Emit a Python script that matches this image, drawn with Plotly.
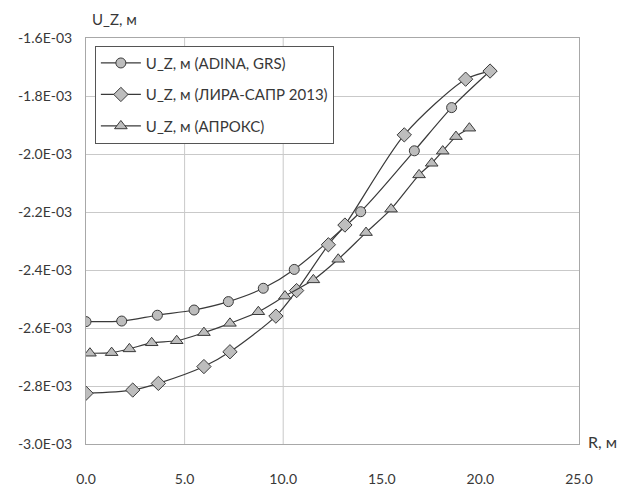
import plotly.graph_objects as go

# Vertical displacement U_Z versus radius R for three solvers
r_adina = [0.0, 1.81, 3.62, 5.48, 7.22, 8.99, 10.56, 13.93, 16.65, 18.54, 20.49]
uz_adina = [-2.578e-3, -2.576e-3, -2.556e-3, -2.538e-3, -2.509e-3, -2.463e-3,
            -2.398e-3, -2.199e-3, -1.989e-3, -1.840e-3, -1.714e-3]

r_lira = [0.0, 2.37, 3.67, 5.98, 7.30, 9.63, 10.68, 12.29, 13.13, 16.14, 19.25, 20.49]
uz_lira = [-2.825e-3, -2.814e-3, -2.791e-3, -2.733e-3, -2.682e-3, -2.559e-3,
           -2.471e-3, -2.313e-3, -2.245e-3, -1.934e-3, -1.742e-3, -1.714e-3]

r_aproks = [0.2, 1.30, 2.20, 3.33, 4.60, 5.98, 7.30, 8.74, 10.09, 11.53, 12.79,
            14.20, 15.47, 16.89, 17.53, 18.09, 18.76, 19.44]
uz_aproks = [-2.687e-3, -2.685e-3, -2.672e-3, -2.651e-3, -2.644e-3, -2.616e-3,
             -2.584e-3, -2.544e-3, -2.490e-3, -2.434e-3, -2.363e-3, -2.271e-3,
             -2.190e-3, -2.072e-3, -2.032e-3, -1.990e-3, -1.940e-3, -1.911e-3]

series_names = ["U_Z, м (ADINA, GRS)", "U_Z, м (ЛИРА-САПР 2013)", "U_Z, м (АПРОКС)"]

y_tick_vals = [-3.0e-3, -2.8e-3, -2.6e-3, -2.4e-3, -2.2e-3, -2.0e-3, -1.8e-3, -1.6e-3]
y_tick_text = ["-3.0E-03", "-2.8E-03", "-2.6E-03", "-2.4E-03", "-2.2E-03",
               "-2.0E-03", "-1.8E-03", "-1.6E-03"]
x_tick_vals = [0, 5, 10, 15, 20, 25]
x_tick_text = ["0.0", "5.0", "10.0", "15.0", "20.0", "25.0"]

LINE = "#3a3a3a"
FILL = "#bdbdbd"
GRID = "#c9c9c9"
TEXT = "#383838"
FONT = "Lato"

fig = go.Figure()

styles = [("circle", 10), ("diamond", 11), ("triangle-up", 11)]
data = [(r_adina, uz_adina), (r_lira, uz_lira), (r_aproks, uz_aproks)]

for i, ((xs, ys), (sym, size), name) in enumerate(zip(data, styles, series_names)):
    fig.add_trace(go.Scatter(
        x=xs, y=ys, name=name, mode="lines+markers",
        legendgroup=f"g{i}",
        line=dict(color=LINE, width=1.2, shape="spline", smoothing=0.8),
        marker=dict(symbol=sym, size=size, color=FILL,
                    line=dict(color=LINE, width=1)),
    ))

# Vertical reference lines at R = 5 and 10
for xv in [5, 10]:
    fig.add_shape(type="line", xref="x", yref="paper", x0=xv, x1=xv, y0=0, y1=1,
                  line=dict(color=GRID, width=1), layer="below")

fig.update_layout(
    width=632, height=488,
    margin=dict(l=86, r=53, t=38, b=44, autoexpand=False),
    paper_bgcolor="white", plot_bgcolor="white",
    font=dict(family=FONT, size=14, color=TEXT),
    showlegend=True,
    legend=dict(
        x=0.018, y=0.981, xanchor="left", yanchor="top",
        bgcolor="white", bordercolor="#555555", borderwidth=1,
        font=dict(family=FONT, size=15, color=TEXT),
        tracegroupgap=9, itemwidth=40,
    ),
    xaxis=dict(
        range=[0, 25], tickvals=x_tick_vals, ticktext=x_tick_text,
        showgrid=False, zeroline=False, automargin=False,
        showline=True, linecolor="#a8a8a8", linewidth=1, mirror=True,
        ticks="", ticklabelstandoff=22,
        tickfont=dict(family=FONT, size=14, color=TEXT),
    ),
    yaxis=dict(
        range=[-3.0e-3, -1.6e-3], tickvals=y_tick_vals, ticktext=y_tick_text,
        showgrid=True, gridcolor=GRID, gridwidth=1, zeroline=False, automargin=False,
        showline=True, linecolor="#a8a8a8", linewidth=1, mirror=True,
        ticks="", ticklabelstandoff=10,
        tickfont=dict(family=FONT, size=14, color=TEXT),
    ),
    annotations=[
        dict(text="U_Z, м", xref="paper", yref="paper", x=0.0, y=1.0,
             xanchor="left", yanchor="bottom", yshift=8, xshift=4, showarrow=False,
             font=dict(family=FONT, size=15, color=TEXT)),
        dict(text="R, м", xref="paper", yref="paper", x=1.0, y=0.0,
             xanchor="left", yanchor="middle", xshift=7, yshift=3, showarrow=False,
             font=dict(family=FONT, size=16, color=TEXT)),
    ],
)

fig.write_html("out.html")
